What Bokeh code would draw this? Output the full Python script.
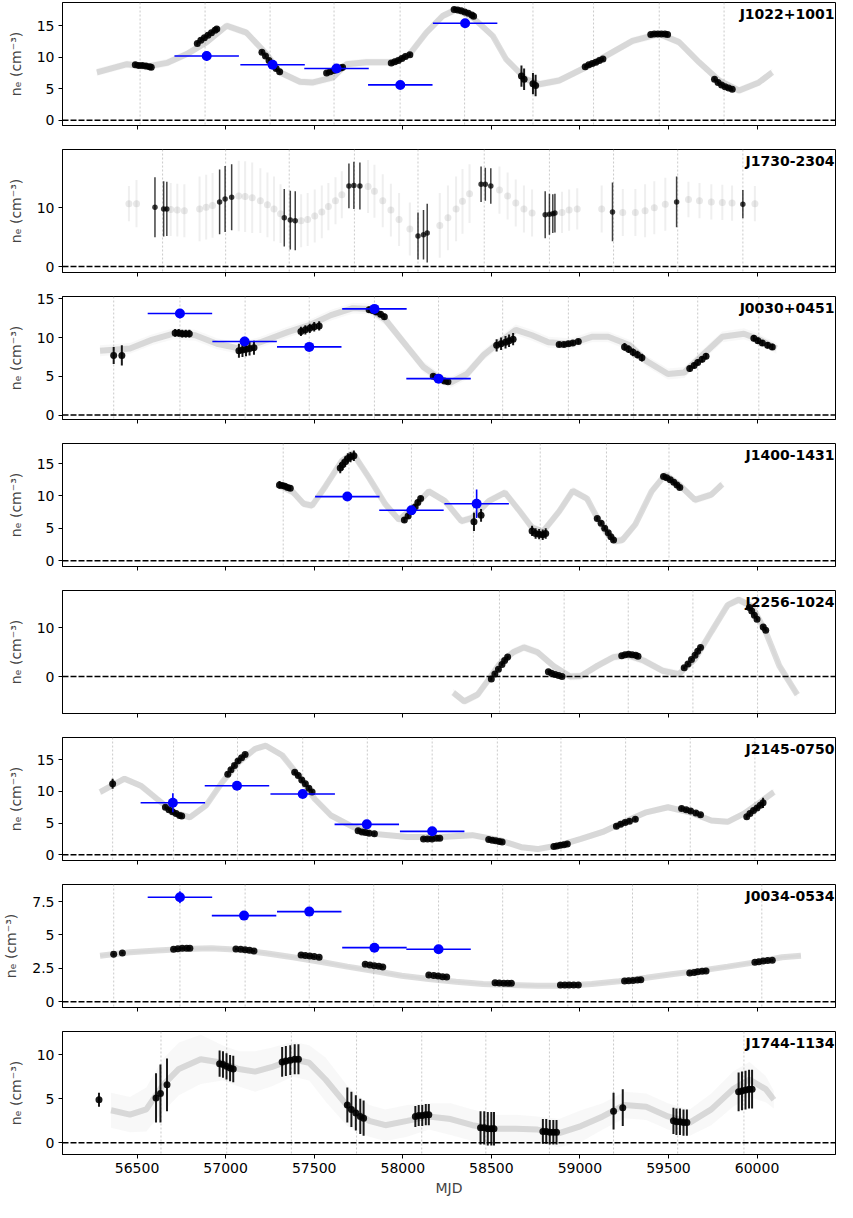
import numpy as np
from bokeh.plotting import figure
from bokeh.layouts import column
from bokeh.models import Span, Label, FixedTicker, Range1d, CustomLabelingPolicy
from bokeh.embed import file_html
from bokeh.resources import INLINE

FONT = "DejaVu Sans"
MJD_TICKS = [56500, 57000, 57500, 58000, 58500, 59000, 59500, 60000]
X_LIM = (56079, 60443)
BIN_XERR = 182

# ---------------- J1022+1001 ----------------
j1022_model_mjd = [56273, 56443, 56555, 56668, 56781, 56893, 57006, 57118, 57231, 57306, 57419, 57494,
                   57607, 57682, 57794, 57945, 58039, 58133, 58227, 58302, 58396, 58508, 58583, 58696,
                   58771, 58883, 59034, 59147, 59297, 59448, 59560, 59673, 59786, 59899, 60011, 60086]
j1022_model_ne = [7.6, 8.9, 8.5, 9.1, 10.5, 12.4, 15.0, 13.9, 10.5, 7.6, 6.1, 6.0,
                  6.8, 8.9, 9.2, 9.2, 10.5, 13.9, 16.6, 17.6, 16.3, 13.4, 9.7, 6.5,
                  5.7, 6.3, 8.4, 10.2, 12.6, 13.7, 12.4, 9.2, 6.3, 4.7, 6.0, 7.6]
j1022_model_err = 0.6
j1022_obs_mjd = [56490, 56510, 56530, 56550, 56570, 56580,
                 56840, 56860, 56880, 56900, 56920, 56940, 56950,
                 57205, 57225, 57245, 57265, 57285, 57305,
                 57570, 57590, 57610, 57630, 57650, 57660,
                 57935, 57955, 57975, 57995, 58015, 58040,
                 58290, 58310, 58330, 58350, 58370, 58390, 58400,
                 58670, 58685, 58735, 58750,
                 59030, 59050, 59070, 59090, 59110, 59130,
                 59400, 59420, 59440, 59460, 59480, 59495,
                 59760, 59780, 59800, 59820, 59840, 59860]
j1022_obs_ne = [8.8, 8.7, 8.7, 8.6, 8.5, 8.4,
                12.2, 12.7, 13.1, 13.5, 13.9, 14.3, 14.5,
                10.8, 10.2, 9.5, 8.8, 8.2, 7.7,
                7.5, 7.7, 7.9, 8.1, 8.3, 8.4,
                9.1, 9.3, 9.5, 9.8, 10.1, 10.4,
                17.6, 17.5, 17.4, 17.2, 17.0, 16.7, 16.5,
                7.0, 6.5, 5.8, 5.5,
                8.5, 8.8, 9.0, 9.2, 9.5, 9.7,
                13.6, 13.7, 13.7, 13.7, 13.7, 13.6,
                6.5, 6.0, 5.6, 5.3, 5.1, 4.9]
j1022_obs_err = [0.4] * 6 + [0.3] * 7 + [0.3] * 6 + [0.3] * 6 + [0.3] * 6 + [0.3] * 7 + [1.7] * 4 + [0.3] * 6 + [0.3] * 6 + [0.3] * 6
j1022_bin_mjd = [56893, 57265, 57626, 57986, 58352]
j1022_bin_ne = [10.2, 8.8, 8.2, 5.6, 15.4]
j1022_bin_err = [0.8, 0.6, 0.4, 0.3, 0.4]
j1022_conj = [56517, 56884, 57251, 57612, 57985, 58349, 58735, 59077, 59448, 59814]

# ---------------- J1730-2304 ----------------
j1730_model_mjd = [56454, 56497, 56690, 56727, 56767, 56853, 56890, 56926, 57074, 57110, 57150, 57196,
                   57236, 57273, 57310, 57426, 57463, 57503, 57543, 57580, 57620, 57656, 57804, 57840,
                   57887, 57933, 57979, 58040, 58209, 58255, 58301, 58337, 58377, 58546, 58592, 58638,
                   58684, 58730, 58899, 58939, 58985, 59123, 59242, 59313, 59368, 59420, 59482, 59613,
                   59675, 59742, 59804, 59859, 59988]
j1730_model_ne = [10.7, 10.7, 9.7, 9.6, 9.5, 9.8, 10.1, 10.4, 12.0, 11.9, 11.7, 11.2,
                  10.5, 9.8, 9.0, 7.8, 8.0, 8.6, 9.3, 10.2, 11.2, 12.2, 13.6, 12.8,
                  11.2, 9.6, 8.0, 6.4, 7.0, 8.3, 9.8, 11.1, 12.4, 13.0, 12.0, 10.8,
                  9.8, 9.1, 9.2, 9.6, 9.8, 9.8, 9.2, 9.2, 9.5, 10.0, 10.6, 11.4,
                  11.2, 11.0, 10.9, 10.8, 10.7]
j1730_model_err = [3.0, 4.0, 4.5, 4.5, 4.5, 5.5, 5.5, 5.5, 6.0, 6.0, 6.0, 5.5,
                   5.5, 5.5, 5.0, 4.5, 4.5, 4.5, 4.5, 4.0, 4.0, 4.0, 4.5, 4.5,
                   4.5, 4.5, 4.5, 4.5, 5.5, 5.5, 5.5, 5.5, 5.0, 4.0, 4.0, 4.0,
                   4.0, 4.0, 3.5, 3.5, 3.5, 4.0, 4.0, 4.0, 4.5, 4.5, 4.5, 3.0,
                   3.0, 3.0, 3.0, 3.0, 3.0]
j1730_obs_mjd = [56601, 56650, 56668, 56966, 56997, 57034, 57331, 57365, 57393,
                 57696, 57724, 57758, 58086, 58117, 58138, 58442, 58466, 58497,
                 58804, 58828, 58847, 58859, 59184, 59546, 59920]
j1730_obs_ne = [10.1, 9.8, 9.8, 11.0, 11.5, 11.8, 8.3, 7.9, 7.8,
                13.7, 13.8, 13.7, 5.2, 5.4, 5.7, 14.0, 14.0, 13.7,
                8.8, 8.9, 9.0, 9.1, 9.3, 11.0, 10.6]
j1730_obs_err = [5.1, 4.7, 4.6, 5.5, 5.6, 5.6, 4.9, 5.0, 5.0,
                 3.8, 4.0, 4.0, 4.0, 4.2, 5.0, 3.0, 2.8, 3.0,
                 4.0, 3.5, 3.3, 3.3, 5.0, 4.3, 2.4]
j1730_conj = [56644, 57000, 57359, 57727, 58086, 58460, 58828, 59190, 59552, 59920]

# ---------------- J0030+0451 ----------------
j0030_model_mjd = [56291, 56460, 56583, 56706, 56828, 56951, 57074, 57196, 57350, 57472, 57595, 57718,
                   57810, 57902, 58025, 58117, 58209, 58270, 58362, 58454, 58546, 58638, 58730, 58822,
                   58945, 59067, 59160, 59282, 59374, 59497, 59589, 59681, 59804, 59926, 60018, 60110]
j0030_model_ne = [8.3, 8.6, 9.7, 10.5, 10.3, 9.2, 8.6, 9.4, 10.7, 11.6, 12.9, 13.8,
                  13.7, 12.3, 8.8, 6.2, 4.7, 4.2, 5.3, 7.7, 9.4, 11.0, 10.3, 9.4,
                  9.2, 10.1, 10.1, 9.0, 7.0, 5.3, 5.5, 7.5, 10.1, 10.5, 9.7, 8.6]
j0030_model_err = 0.7
j0030_obs_mjd = [56368, 56414,
                 56715, 56735, 56755, 56775, 56795,
                 57075, 57095, 57115, 57135, 57160,
                 57425, 57450, 57475, 57500, 57528,
                 57810, 57830, 57850, 57875, 57896,
                 58172, 58192, 58212, 58235, 58255,
                 58530, 58555, 58580, 58600, 58623,
                 58883, 58910, 58935, 58960, 58991,
                 59252, 59275, 59300, 59325, 59350,
                 59620, 59645, 59665, 59690, 59712,
                 59982, 60005, 60030, 60060, 60086]
j0030_obs_ne = [7.7, 7.7,
                10.6, 10.6, 10.5, 10.5, 10.5,
                8.3, 8.4, 8.5, 8.6, 8.7,
                10.8, 11.0, 11.2, 11.4, 11.5,
                13.6, 13.5, 13.3, 13.0, 12.7,
                5.0, 4.8, 4.6, 4.4, 4.3,
                9.0, 9.2, 9.4, 9.6, 9.8,
                9.1, 9.1, 9.2, 9.3, 9.5,
                8.8, 8.5, 8.1, 7.8, 7.4,
                6.0, 6.4, 6.8, 7.2, 7.6,
                9.9, 9.6, 9.3, 9.0, 8.8]
j0030_obs_err = [1.1, 1.3] + [0.5] * 5 + [0.9] * 5 + [0.6] * 5 + [0.4] * 5 + [0.3] * 5 + [0.8] * 5 + [0.3] * 5 + [0.5] * 5 + [0.4] * 5 + [0.4] * 5
j0030_bin_mjd = [56742, 57107, 57472, 57840, 58202]
j0030_bin_ne = [13.1, 9.5, 8.8, 13.7, 4.7]
j0030_bin_err = [0.6, 0.6, 0.3, 0.4, 0.4]
j0030_conj = [56368, 56742, 57110, 57472, 57840, 58202, 58564, 58935, 59303, 59665, 60010]

# ---------------- J1400-1431 ----------------
j1400_model_mjd = [57288, 57380, 57440, 57488, 57564, 57656, 57718, 57810, 57902, 57979, 58055, 58147,
                   58239, 58331, 58393, 58485, 58577, 58653, 58730, 58791, 58883, 58960, 59040, 59098,
                   59150, 59200, 59240, 59313, 59405, 59482, 59558, 59650, 59742, 59804]
j1400_model_ne = [11.8, 10.6, 8.8, 8.5, 11.5, 15.4, 16.6, 12.8, 8.7, 6.3, 8.1, 10.7,
                  9.2, 6.1, 6.6, 9.2, 10.5, 7.9, 5.1, 4.5, 7.6, 10.8, 9.6, 6.6,
                  4.3, 3.0, 3.2, 5.6, 10.7, 13.3, 11.8, 9.4, 10.2, 11.8]
j1400_model_err = 0.6
j1400_obs_mjd = [57304, 57320, 57335, 57350, 57365,
                 57647, 57660, 57675, 57690, 57705, 57724,
                 58009, 58030, 58050, 58070, 58085, 58101,
                 58402, 58442,
                 58730, 58750, 58770, 58790, 58807,
                 59098, 59120, 59140, 59160, 59175, 59190,
                 59472, 59490, 59510, 59530, 59548, 59564]
j1400_obs_ne = [11.7, 11.6, 11.5, 11.3, 11.2,
                14.3, 14.8, 15.3, 15.8, 16.0, 16.2,
                6.3, 6.9, 7.6, 8.3, 9.0, 9.6,
                6.0, 7.0,
                4.6, 4.2, 4.1, 4.0, 4.2,
                6.5, 5.8, 5.0, 4.3, 3.7, 3.2,
                13.0, 12.8, 12.5, 12.1, 11.7, 11.3]
j1400_obs_err = [0.6, 0.4, 0.4, 0.4, 0.4] + [0.8] * 6 + [0.4] * 6 + [1.4, 1.0] + [0.8] * 5 + [0.3] * 6 + [0.3] * 6
j1400_bin_mjd = [57687, 58049, 58417]
j1400_bin_ne = [9.9, 7.8, 8.8]
j1400_bin_err = [0.7, 0.5, 2.2]
j1400_conj = [57325, 57696, 58049, 58399, 58776, 59150, 59503]

# ---------------- J2256-1024 ----------------
j2256_model_mjd = [58285, 58347, 58423, 58485, 58546, 58623, 58684, 58761, 58853, 58945, 59006, 59098,
                   59190, 59267, 59359, 59466, 59558, 59650, 59742, 59834, 59896, 59972, 60049, 60126, 60227]
j2256_model_ne = [-3.3, -5.1, -3.7, -0.6, 2.6, 5.0, 6.0, 5.0, 2.1, 0.0, 0.1, 2.2,
                  4.0, 4.4, 3.3, 1.2, 0.5, 3.6, 9.2, 14.7, 15.8, 14.4, 9.2, 2.2, -3.7]
j2256_model_err = 0.8
j2256_obs_mjd = [58500, 58520, 58540, 58560, 58575, 58592,
                 58822, 58840, 58860, 58880, 58899,
                 59236, 59255, 59275, 59295, 59315, 59328,
                 59589, 59610, 59630, 59650, 59665, 59681,
                 59957, 59970, 59985, 60000, 60035, 60049]
j2256_obs_ne = [-0.5, 0.5, 1.5, 2.5, 3.3, 4.0,
                1.0, 0.7, 0.4, 0.2, 0.0,
                4.3, 4.5, 4.6, 4.5, 4.4, 4.2,
                1.8, 2.6, 3.5, 4.4, 5.2, 6.0,
                14.2, 13.5, 12.6, 11.8, 10.2, 9.5]
j2256_obs_err = [0.3] * 29
j2256_conj = [58546, 58911, 59273, 59638, 60003]

# ---------------- J2145-0750 ----------------
j2145_model_mjd = [56291, 56429, 56521, 56613, 56706, 56798, 56890, 56982, 57074, 57166, 57227, 57319,
                   57411, 57503, 57595, 57718, 57840, 58025, 58209, 58393, 58546, 58669, 58761, 58883,
                   59006, 59129, 59252, 59374, 59497, 59620, 59742, 59834, 59926, 60018, 60095]
j2145_model_ne = [9.9, 12.0, 10.9, 8.8, 6.7, 5.9, 7.8, 11.5, 14.6, 16.7, 17.2, 15.7,
                  12.5, 8.8, 6.2, 4.4, 3.3, 2.8, 2.8, 3.1, 2.3, 1.2, 0.9, 1.5,
                  2.5, 3.6, 5.2, 6.7, 7.5, 6.7, 5.4, 5.2, 6.5, 8.3, 9.9]
j2145_model_err = 0.5
j2145_obs_mjd = [56362,
                 56660, 56680, 56700, 56720, 56740, 56752,
                 57012, 57030, 57050, 57070, 57090, 57110,
                 57390, 57410, 57430, 57450, 57470, 57488,
                 57748, 57770, 57790, 57810, 57840,
                 58117, 58140, 58165, 58190, 58209,
                 58485, 58505, 58525, 58545, 58561,
                 58853, 58870, 58890, 58910, 58929,
                 59206, 59230, 59255, 59280, 59313,
                 59574, 59600, 59625, 59655, 59681,
                 59942, 59960, 59980, 60000, 60018, 60034]
j2145_obs_ne = [11.2,
                7.5, 7.1, 6.8, 6.5, 6.2, 6.1,
                12.7, 13.4, 14.1, 14.8, 15.3, 15.8,
                13.0, 12.5, 11.8, 11.2, 10.5, 9.9,
                3.8, 3.6, 3.5, 3.4, 3.3,
                2.5, 2.5, 2.5, 2.6, 2.6,
                2.4, 2.3, 2.2, 2.1, 2.0,
                1.3, 1.4, 1.5, 1.6, 1.7,
                4.5, 4.8, 5.1, 5.3, 5.6,
                7.3, 7.1, 6.9, 6.6, 6.3,
                6.0, 6.5, 7.0, 7.4, 7.8, 8.2]
j2145_obs_err = [0.8] + [0.3] * 53 + [0.8]
j2145_bin_mjd = [56702, 57064, 57435, 57797, 58166]
j2145_bin_ne = [8.2, 10.9, 9.6, 4.8, 3.7]
j2145_bin_err = [1.5, 0.5, 0.4, 0.4, 0.4]
j2145_conj = [56362, 56706, 57067, 57435, 57800, 58166, 58534, 58893, 59258, 59623, 59988]

# ---------------- J0034-0534 ----------------
j0034_model_mjd = [56291, 56460, 56613, 56767, 56920, 57074, 57227, 57380, 57534, 57687, 57840, 57994,
                   58147, 58301, 58454, 58607, 58761, 58914, 59067, 59221, 59374, 59528, 59681, 59834,
                   59988, 60141, 60248]
j0034_model_ne = [3.45, 3.7, 3.83, 3.95, 4.0, 3.9, 3.63, 3.33, 3.0, 2.63, 2.3, 1.95,
                  1.7, 1.5, 1.33, 1.25, 1.2, 1.2, 1.33, 1.53, 1.8, 2.08, 2.33, 2.63,
                  2.95, 3.33, 3.45]
j0034_model_err = 0.1
j0034_obs_mjd = [56368, 56417,
                 56706, 56730, 56755, 56780, 56798,
                 57058, 57085, 57110, 57135, 57160,
                 57426, 57450, 57475, 57500, 57528,
                 57788, 57815, 57840, 57865, 57887,
                 58147, 58175, 58200, 58225, 58248,
                 58521, 58545, 58570, 58592, 58613,
                 58890, 58915, 58940, 58965, 58991,
                 59252, 59275, 59300, 59325, 59344,
                 59620, 59645, 59665, 59690, 59712,
                 59988, 60010, 60035, 60060, 60086]
j0034_obs_ne = [3.55, 3.65,
                3.93, 3.97, 4.0, 4.0, 4.0,
                3.95, 3.93, 3.9, 3.85, 3.8,
                3.5, 3.47, 3.43, 3.38, 3.33,
                2.8, 2.75, 2.7, 2.65, 2.6,
                2.0, 1.96, 1.92, 1.88, 1.85,
                1.42, 1.4, 1.38, 1.38, 1.38,
                1.25, 1.25, 1.25, 1.25, 1.25,
                1.55, 1.58, 1.6, 1.63, 1.65,
                2.15, 2.2, 2.25, 2.28, 2.3,
                2.95, 3.0, 3.05, 3.08, 3.1]
j0034_obs_err = [0.1] * 52
j0034_bin_mjd = [56742, 57104, 57472, 57840, 58202]
j0034_bin_ne = [7.83, 6.45, 6.75, 4.05, 3.93]
j0034_bin_err = [0.45, 0.25, 0.2, 0.2, 0.2]
j0034_conj = [56368, 56742, 57110, 57472, 57836, 58202, 58564, 58932, 59297, 59665, 60027]

# ---------------- J1744-1134 ----------------
j1744_model_mjd = [56353, 56460, 56552, 56644, 56736, 56859, 56982, 57074, 57166, 57258, 57380, 57472,
                   57564, 57687, 57810, 57902, 58025, 58147, 58270, 58393, 58515, 58638, 58761, 58883,
                   59006, 59129, 59252, 59374, 59497, 59620, 59742, 59865, 59957, 60049, 60095]
j1744_model_ne = [3.7, 3.2, 3.8, 6.5, 8.4, 9.5, 9.1, 8.4, 8.1, 8.6, 9.5, 9.1,
                  7.2, 4.2, 2.5, 2.0, 2.5, 3.0, 2.7, 2.0, 1.6, 1.6, 1.5, 1.1,
                  1.9, 3.0, 4.3, 4.1, 3.0, 2.3, 3.8, 6.1, 7.2, 6.1, 4.9]
j1744_model_err = [2.0, 2.0, 2.5, 3.0, 3.0, 2.8, 2.0, 2.0, 2.3, 2.2, 2.0, 2.0,
                   2.5, 2.3, 1.8, 1.8, 1.8, 1.5, 1.8, 1.8, 1.6, 1.6, 1.5, 1.6,
                   1.8, 1.5, 1.5, 1.5, 1.5, 1.5, 1.8, 2.0, 2.0, 1.5, 1.0]
j1744_obs_mjd = [56285,
                 56607, 56632, 56669,
                 56966, 56985, 57005, 57025, 57043,
                 57319, 57340, 57365, 57390, 57411,
                 57687, 57710, 57735, 57760, 57779,
                 58071, 58090, 58110, 58130, 58147,
                 58439, 58460, 58480, 58500, 58515,
                 58791, 58810, 58830, 58850, 58868,
                 59190, 59242,
                 59528, 59545, 59565, 59585, 59604,
                 59896, 59915, 59935, 59955, 59972]
j1744_obs_ne = [4.9,
                5.1, 5.6, 6.6,
                9.0, 8.9, 8.7, 8.5, 8.4,
                9.2, 9.3, 9.4, 9.5, 9.5,
                4.3, 3.8, 3.4, 3.0, 2.8,
                3.0, 3.1, 3.1, 3.2, 3.2,
                1.7, 1.7, 1.6, 1.6, 1.6,
                1.3, 1.3, 1.2, 1.2, 1.2,
                3.6, 4.0,
                2.5, 2.4, 2.4, 2.3, 2.3,
                5.8, 5.9, 6.0, 6.1, 6.1]
j1744_obs_err = [0.8, 2.8, 3.3, 3.0] + [1.5] * 5 + [1.7] * 5 + [2.0] * 5 + [1.2] * 5 + [1.9] * 5 + [1.4] * 5 + [2.1, 2.1] + [1.5] * 5 + [2.2] * 5
j1744_conj = [56635, 57006, 57371, 57739, 58107, 58469, 58828, 59190, 59552, 59926]

# ---------------- panel specs ----------------
panels = [
    dict(name="J1022+1001", ylim=(-0.85, 18.7), yticks=[0, 5, 10, 15],
         mm=j1022_model_mjd, mn=j1022_model_ne, me=j1022_model_err,
         om=j1022_obs_mjd, on=j1022_obs_ne, oe=j1022_obs_err, conj=j1022_conj,
         bm=j1022_bin_mjd, bn=j1022_bin_ne, be=j1022_bin_err),
    dict(name="J1730-2304", ylim=(-1.0, 19.9), yticks=[0, 10],
         mm=j1730_model_mjd, mn=j1730_model_ne, me=j1730_model_err,
         om=j1730_obs_mjd, on=j1730_obs_ne, oe=j1730_obs_err, conj=j1730_conj, dots=True),
    dict(name="J0030+0451", ylim=(-0.57, 15.3), yticks=[0, 5, 10, 15],
         mm=j0030_model_mjd, mn=j0030_model_ne, me=j0030_model_err,
         om=j0030_obs_mjd, on=j0030_obs_ne, oe=j0030_obs_err, conj=j0030_conj,
         bm=j0030_bin_mjd, bn=j0030_bin_ne, be=j0030_bin_err),
    dict(name="J1400-1431", ylim=(-0.9, 18.1), yticks=[0, 5, 10, 15],
         mm=j1400_model_mjd, mn=j1400_model_ne, me=j1400_model_err,
         om=j1400_obs_mjd, on=j1400_obs_ne, oe=j1400_obs_err, conj=j1400_conj,
         bm=j1400_bin_mjd, bn=j1400_bin_ne, be=j1400_bin_err),
    dict(name="J2256-1024", ylim=(-7.6, 17.7), yticks=[0, 10],
         mm=j2256_model_mjd, mn=j2256_model_ne, me=j2256_model_err,
         om=j2256_obs_mjd, on=j2256_obs_ne, oe=j2256_obs_err, conj=j2256_conj),
    dict(name="J2145-0750", ylim=(-0.9, 18.5), yticks=[0, 5, 10, 15],
         mm=j2145_model_mjd, mn=j2145_model_ne, me=j2145_model_err,
         om=j2145_obs_mjd, on=j2145_obs_ne, oe=j2145_obs_err, conj=j2145_conj,
         bm=j2145_bin_mjd, bn=j2145_bin_ne, be=j2145_bin_err),
    dict(name="J0034-0534", ylim=(-0.43, 8.78), yticks=[0, 2.5, 5, 7.5],
         mm=j0034_model_mjd, mn=j0034_model_ne, me=j0034_model_err,
         om=j0034_obs_mjd, on=j0034_obs_ne, oe=j0034_obs_err, conj=j0034_conj,
         bm=j0034_bin_mjd, bn=j0034_bin_ne, be=j0034_bin_err),
    dict(name="J1744-1134", ylim=(-1.33, 12.66), yticks=[0, 5, 10],
         mm=j1744_model_mjd, mn=j1744_model_ne, me=j1744_model_err,
         om=j1744_obs_mjd, on=j1744_obs_ne, oe=j1744_obs_err, conj=j1744_conj),
]

x_range = Range1d(*X_LIM)
no_labels = CustomLabelingPolicy(code="return new Set()")
figs = []
n = len(panels)
for i, spec in enumerate(panels):
    first = i == 0
    last = i == n - 1
    top = 2 if first else 5
    bottom = 46 if last else 19
    p = figure(width=836, height=top + 123 + bottom, x_range=x_range, y_range=Range1d(*spec["ylim"]),
               output_backend="svg", toolbar_location=None,
               min_border_left=60, min_border_right=1, min_border_top=top,
               min_border_bottom=bottom)
    p.grid.visible = False
    p.outline_line_color = "black"
    p.outline_line_width = 1
    p.xaxis.ticker = FixedTicker(ticks=MJD_TICKS)
    p.yaxis.ticker = FixedTicker(ticks=spec["yticks"])
    for ax in (p.xaxis, p.yaxis):
        ax.minor_tick_line_color = None
        ax.major_tick_out = 4
        ax.major_tick_in = 0
        ax.axis_line_color = "black"
        ax.major_tick_line_color = "black"
        ax.major_label_text_font = FONT
        ax.major_label_text_font_size = "14px"
        ax.major_label_text_color = "black"
        ax.major_label_standoff = 4
    if not last:
        p.xaxis.major_label_policy = no_labels
        p.xaxis.major_label_standoff = 0
    else:
        p.xaxis.axis_label = "MJD"
        p.xaxis.axis_label_text_font = FONT
        p.xaxis.axis_label_text_font_size = "14px"
        p.xaxis.axis_label_text_font_style = "normal"
        p.xaxis.axis_label_standoff = 4
    p.yaxis.axis_label = "nₑ (cm⁻³)"
    p.yaxis.axis_label_text_font = FONT
    p.yaxis.axis_label_text_font_size = "14px"
    p.yaxis.axis_label_text_font_style = "normal"
    p.yaxis.axis_label_standoff = 10

    for c in spec["conj"]:
        p.add_layout(Span(location=c, dimension="height", line_color="#bdbdbd",
                          line_width=1, line_dash="2 2", line_alpha=0.8, level="underlay"))

    mm = np.array(spec["mm"], float)
    mn = np.array(spec["mn"], float)
    me = np.broadcast_to(np.array(spec["me"], float), mn.shape)
    if spec.get("dots"):
        p.segment(x0=mm, y0=mn - me, x1=mm, y1=mn + me, line_color="gray", line_alpha=0.13, line_width=2)
        p.scatter(mm, mn, size=7, fill_color="gray", line_color=None, fill_alpha=0.18)
    else:
        p.varea(x=mm, y1=mn - me, y2=mn + me, fill_color="gray", fill_alpha=0.06)
        p.line(mm, mn, line_color="gray", line_width=6, line_alpha=0.27)

    om = np.array(spec["om"], float)
    on = np.array(spec["on"], float)
    oe = np.array(spec["oe"], float)
    alpha = 0.75 if spec.get("dots") else 0.9
    p.segment(x0=om, y0=on - oe, x1=om, y1=on + oe, line_color="black", line_alpha=alpha,
              line_width=1.5 if spec.get("dots") else 2)
    p.scatter(om, on, size=5.5 if spec.get("dots") else 7, fill_color="black", line_color=None, fill_alpha=alpha)

    if "bm" in spec:
        bm = np.array(spec["bm"], float)
        bn = np.array(spec["bn"], float)
        be = np.array(spec["be"], float)
        p.segment(x0=bm - BIN_XERR, y0=bn, x1=bm + BIN_XERR, y1=bn, line_color="blue", line_width=1.6)
        p.segment(x0=bm, y0=bn - be, x1=bm, y1=bn + be, line_color="blue", line_width=1.6)
        p.scatter(bm, bn, size=10, fill_color="blue", line_color=None)

    p.add_layout(Span(location=0, dimension="width", line_color="black", line_width=1.5, line_dash="6 2"))
    p.add_layout(Label(x=X_LIM[1], y=spec["ylim"][1], x_offset=-1, y_offset=-3, text=spec["name"],
                       text_align="right", text_baseline="top", text_font=FONT,
                       text_font_size="14px", text_font_style="bold", text_color="black"))
    figs.append(p)

layout = column(*figs, spacing=0)
open("out.html", "w").write(file_html(layout, INLINE))
